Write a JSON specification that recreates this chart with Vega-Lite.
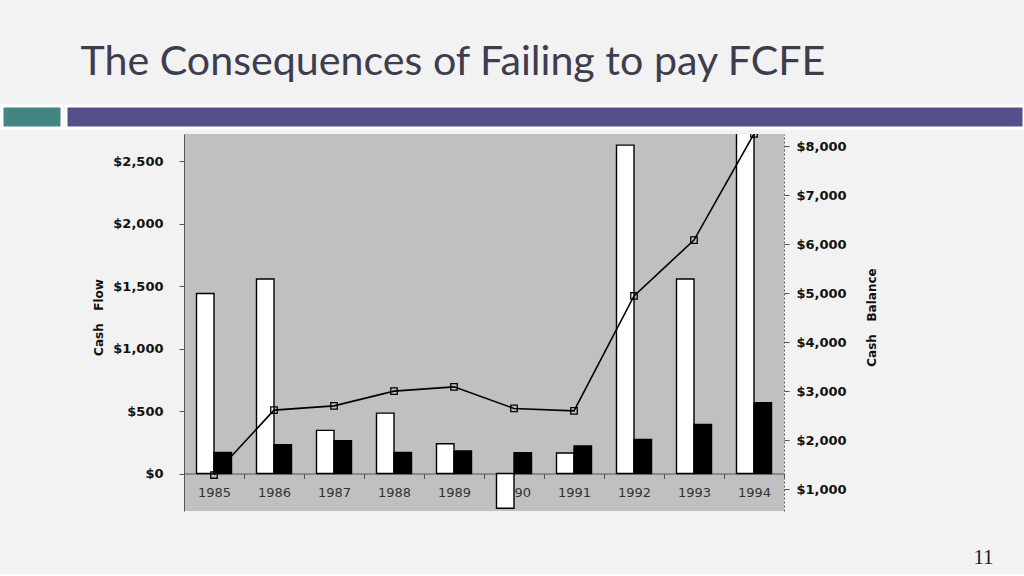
{
  "$schema": "https://vega.github.io/schema/vega-lite/v6.json",
  "background": "#f2f2f2",
  "padding": {"left": 0, "top": 42, "right": 0, "bottom": 6},
  "title": {
    "text": "The Consequences of Failing to pay FCFE",
    "anchor": "start",
    "dx": 80,
    "font": "Lato",
    "fontSize": 41.2,
    "fontWeight": "normal",
    "color": "#3e3d4f",
    "baseline": "alphabetic",
    "offset": -12
  },
  "datasets": {
    "cf": [
      {"year": "1985", "fcfe": 1440, "dividends": 169, "cashBalance": 1286},
      {"year": "1986", "fcfe": 1557, "dividends": 230, "cashBalance": 2612},
      {"year": "1987", "fcfe": 345, "dividends": 262, "cashBalance": 2700},
      {"year": "1988", "fcfe": 483, "dividends": 169, "cashBalance": 3000},
      {"year": "1989", "fcfe": 238, "dividends": 180, "cashBalance": 3088},
      {"year": "1990", "fcfe": -278, "dividends": 166, "cashBalance": 2647},
      {"year": "1991", "fcfe": 164, "dividends": 220, "cashBalance": 2598},
      {"year": "1992", "fcfe": 2628, "dividends": 273, "cashBalance": 4945},
      {"year": "1993", "fcfe": 1557, "dividends": 393, "cashBalance": 6088},
      {"year": "1994", "fcfe": 2740, "dividends": 566, "cashBalance": 8259}
    ]
  },
  "spacing": 4,
  "vconcat": [
    {
      "spacing": 0,
      "hconcat": [
        {"width": 60, "height": 22, "data": {"values": []}, "mark": "rect",
         "view": {"fill": "#438581", "stroke": "#ffffff", "strokeWidth": 3}},
        {"width": 958, "height": 22, "data": {"values": []}, "mark": "rect",
         "view": {"fill": "#53508a", "stroke": "#ffffff", "strokeWidth": 3}}
      ]
    },
    {
      "spacing": 0,
      "hconcat": [
        {"width": 90, "height": 10, "data": {"values": []}, "mark": "rect",
         "view": {"fill": null, "stroke": null}},
        {
          "width": 600,
          "height": 377,
          "view": {"fill": "#c0c0c0", "stroke": null},
          "data": {"name": "cf"},
          "encoding": {
            "x": {
              "field": "year", "type": "nominal",
              "scale": {"paddingInner": 0, "paddingOuter": 0},
              "axis": {
                "title": "11",
                "offset": -37.5,
                "labelAngle": 0,
                "tickBand": "extent",
                "domainColor": "#555555",
                "tickColor": "#555555",
                "tickSize": 5,
                "labelFont": "DejaVu Sans",
                "labelFontSize": 13,
                "labelColor": "#333333",
                "labelPadding": 8,
                "titleFont": "Liberation Serif",
                "titleFontSize": 21,
                "titleFontWeight": "normal",
                "titleColor": "#1a1a1a",
                "titleX": 799,
                "titleY": 89.8,
                "titleAlign": "center",
                "titleBaseline": "alphabetic"
              }
            }
          },
          "layer": [
            {
              "transform": [{"fold": ["fcfe", "dividends"], "as": ["measure", "value"]}],
              "mark": {"type": "bar", "stroke": "#000000", "strokeWidth": 1.4, "clip": true},
              "encoding": {
                "xOffset": {"field": "measure", "type": "nominal", "sort": ["fcfe", "dividends"],
                            "scale": {"paddingInner": 0, "paddingOuter": 0.714}},
                "y": {
                  "field": "value", "type": "quantitative", "stack": null,
                  "scale": {"domain": [-300, 2717], "nice": false, "zero": false},
                  "axis": {
                    "orient": "left",
                    "values": [0, 500, 1000, 1500, 2000, 2500],
                    "format": "$,.0f",
                    "title": "Cash\u00a0\u00a0\u00a0Flow",
                    "grid": false,
                    "domainColor": "#555555",
                    "tickColor": "#555555",
                    "tickSize": 5,
                    "labelFont": "DejaVu Sans",
                    "labelFontWeight": "bold",
                    "labelFontSize": 13,
                    "labelColor": "#111111",
                    "labelPadding": 16,
                    "titleFont": "DejaVu Sans",
                    "titleFontSize": 12,
                    "titleFontWeight": "bold",
                    "titleColor": "#111111",
                    "titleAngle": 270,
                    "titleX": -81.7,
                    "titleY": 183,
                    "titleAlign": "center",
                    "titleBaseline": "alphabetic"
                  }
                },
                "y2": {"datum": 0},
                "fill": {"field": "measure", "type": "nominal",
                         "scale": {"domain": ["fcfe", "dividends"], "range": ["#ffffff", "#000000"]},
                         "legend": null}
              }
            },
            {
              "encoding": {
                "y": {
                  "field": "cashBalance", "type": "quantitative",
                  "scale": {"domain": [551, 8255], "nice": false, "zero": false},
                  "axis": {
                    "orient": "right",
                    "values": [1000, 2000, 3000, 4000, 5000, 6000, 7000, 8000],
                    "format": "$,.0f",
                    "title": "Cash\u00a0\u00a0\u00a0Balance",
                    "grid": false,
                    "domainColor": "#555555",
                    "domainDash": [2, 2],
                    "tickColor": "#555555",
                    "tickSize": 5,
                    "labelFont": "DejaVu Sans",
                    "labelFontWeight": "bold",
                    "labelFontSize": 13,
                    "labelColor": "#111111",
                    "labelPadding": 7,
                    "titleFont": "DejaVu Sans",
                    "titleFontSize": 12,
                    "titleFontWeight": "bold",
                    "titleColor": "#111111",
                    "titleAngle": 270,
                    "titleX": 91,
                    "titleY": 183,
                    "titleAlign": "center",
                    "titleBaseline": "alphabetic"
                  }
                }
              },
              "layer": [
                {"mark": {"type": "line", "color": "#000000", "strokeWidth": 1.6, "clip": true}},
                {"mark": {"type": "point", "shape": "square", "filled": false, "color": "#000000",
                          "strokeWidth": 1.3, "size": 42, "opacity": 1, "clip": true}}
              ]
            }
          ],
          "resolve": {"scale": {"y": "independent"}}
        }
      ]
    }
  ],
  "config": {"view": {"stroke": null}}
}
